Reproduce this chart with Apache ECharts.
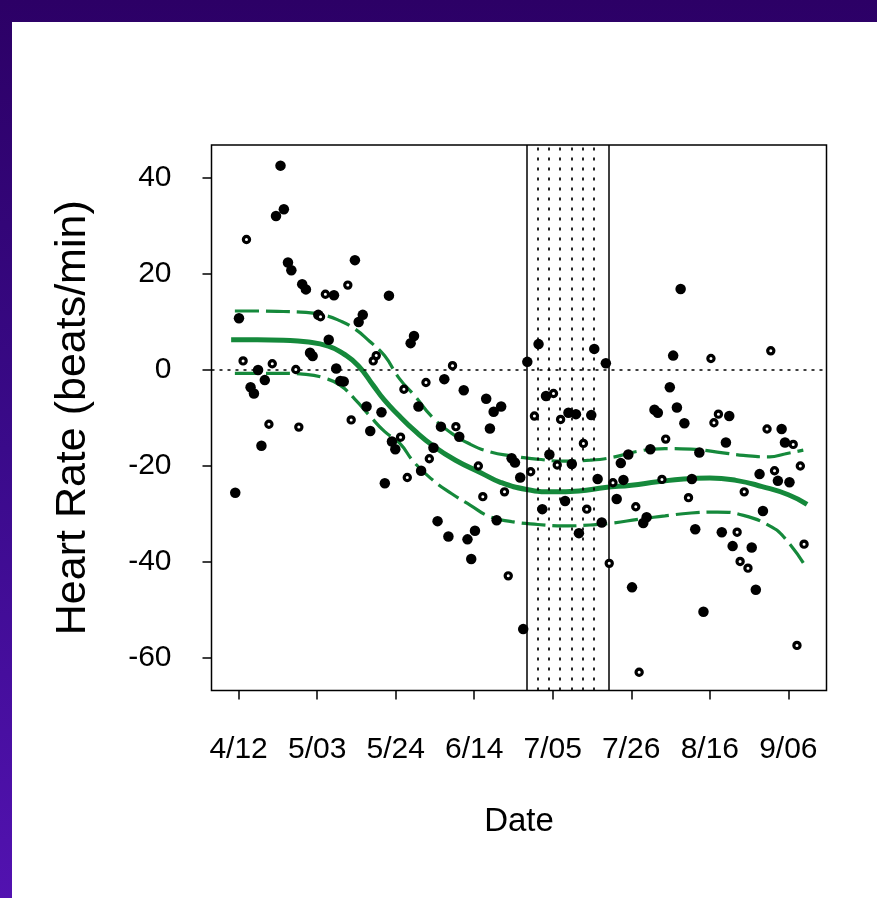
<!DOCTYPE html>
<html>
<head>
<meta charset="utf-8">
<script src="https://cdn.jsdelivr.net/npm/echarts@6/dist/echarts.min.js"></script>
<style>
  html, body { margin: 0; padding: 0; width: 877px; height: 898px; overflow: hidden; }
  body { background: linear-gradient(180deg, #2c0066 0%, #3a0a8a 50%, #5212b0 100%); position: relative; }
  #paper { position: absolute; left: 12px; top: 22px; right: 0; bottom: 0; background: #fff; }
  #b { position: absolute; left: 0; top: 0; width: 877px; height: 898px; }
</style>
</head>
<body>
<div id="paper"></div>
<div id="b"></div>
<script>
// days counted from 4/12
var tickDays = [0, 21, 42, 63, 84, 105, 126, 147];
var tickLabels = ['4/12', '5/03', '5/24', '6/14', '7/05', '7/26', '8/16', '9/06'];
var rateTicks = [-60, -40, -20, 0, 20, 40];

// filled dots
var filledDays = [11.2, 12.1, 10.0, 13.2, 14.1, 17.0, 18.0, 31.1, 25.5, 40.2,
  0.1, 21.3, 33.2, 32.1, 46.9, 46.0, 24.1, 19.1, 19.8, 5.2,
  7.0, 26.1, 3.2, 4.1, 27.2, 28.1, 34.2, 38.2, 6.1, -0.9,
  35.2, 41.0, 41.9, 39.1, 48.1, 80.2, 95.1, 77.2, 98.2, 55.0,
  60.2, 66.2, 70.2, 68.2, 67.2, 82.2, 88.2, 90.2, 94.3, 54.1,
  59.0, 52.1, 48.8, 73.0, 73.9, 75.3, 83.1, 89.1, 96.0, 102.2,
  102.9, 101.1, 87.3, 81.2, 69.0, 53.2, 56.1, 61.2, 63.2, 62.2,
  91.0, 97.1, 118.2, 116.2, 115.3, 111.2, 112.1, 117.2, 119.2, 131.2,
  145.2, 130.3, 146.1, 110.1, 104.2, 123.2, 121.2, 139.3, 144.2, 147.3,
  140.2, 109.1, 108.2, 122.1, 129.2, 132.1, 137.2, 76.1, 105.2, 138.3, 124.3];
var filledRate = [42.6, 33.5, 32.1, 22.4, 20.8, 17.9, 16.8, 22.9, 15.6, 15.5,
  10.8, 11.5, 11.5, 10.0, 7.1, 5.6, 6.3, 3.6, 2.9, 0.0,
  -2.1, 0.3, -3.6, -4.9, -2.3, -2.4, -7.6, -8.8, -15.8, -25.6,
  -12.7, -14.9, -16.5, -23.6, -7.6, 5.4, 4.4, 1.7, 1.4, -1.9,
  -4.2, -6.0, -7.6, -8.7, -12.2, -5.4, -8.9, -9.2, -9.4, -11.8,
  -13.9, -16.2, -21.0, -18.4, -19.3, -22.4, -17.6, -19.6, -22.7, -19.4,
  -22.9, -26.9, -27.3, -29.0, -31.3, -31.5, -34.7, -35.3, -33.5, -39.4,
  -34.0, -31.8, 16.9, 3.0, -3.6, -8.3, -8.9, -7.8, -11.1, -9.6,
  -12.3, -15.1, -15.1, -16.5, -17.6, -17.2, -22.7, -21.7, -23.1, -23.4,
  -29.4, -30.7, -31.9, -33.2, -33.8, -36.7, -37.0, -54.0, -45.3, -45.8, -50.4];

// open dots
var openDays = [2.1, 29.2, 23.2, 21.9, 1.2, 9.0, 15.3, 36.8, 36.0, 44.2,
  30.1, 8.1, 16.1, 43.3, 45.1, 57.2, 50.1, 84.2, 79.1, 86.1,
  58.1, 92.2, 51.0, 64.1, 78.1, 85.2, 100.1, 71.1, 65.3, 93.1,
  99.1, 126.3, 142.3, 128.3, 127.1, 141.3, 148.3, 114.2, 150.2, 143.3,
  113.2, 135.2, 120.3, 106.2, 133.3, 151.2, 72.1, 134.1, 136.2, 149.3, 107.1];
var openRate = [27.2, 17.7, 15.8, 11.1, 1.9, 1.3, 0.1, 3.0, 1.9, -4.0,
  -10.4, -11.3, -11.9, -14.0, -22.4, 0.9, -2.6, -4.9, -9.6, -10.3,
  -11.8, -15.3, -18.5, -20.0, -21.2, -19.8, -23.5, -25.4, -26.4, -29.0,
  -40.3, 2.4, 4.0, -9.2, -11.0, -12.3, -15.5, -14.4, -20.0, -21.0,
  -22.8, -25.4, -26.6, -28.5, -33.8, -36.3, -42.9, -39.9, -41.3, -57.4, -63.0];

// smoothed fit and its band
var fitDays = [-2, 5, 12, 18, 24, 28, 32, 36, 39, 43, 47, 52, 58, 65, 70, 77,
  84, 91, 98, 105, 112, 119, 126, 133, 140, 147, 152];
var fitRate = [6.3, 6.3, 6.2, 5.9, 5.0, 3.4, 0.9, -3.2, -6.3, -9.6, -12.6, -15.8, -18.8, -21.5, -23.4, -24.9,
  -25.4, -25.2, -24.5, -24.0, -23.3, -22.7, -22.5, -23.0, -24.3, -26.0, -28.0];
var bandDays = [-1, 5, 12, 18, 23, 27, 31, 35, 39, 43, 47, 52, 57, 62, 67, 73, 80,
  87, 94, 100, 107, 114, 121, 128, 135, 142, 146, 151];
var upperRate = [12.3, 12.3, 12.2, 12.0, 11.4, 10.3, 8.6, 6.0, 3.0, -1.8, -5.3, -10.0, -13.2, -15.5, -17.0, -17.9, -18.6,
  -19.0, -18.8, -18.2, -16.9, -16.4, -16.5, -17.1, -17.8, -18.1, -17.5, -16.7];
var lowerRate = [-0.7, -0.7, -0.7, -0.9, -1.7, -3.1, -6.0, -9.5, -12.8, -15.2, -19.3, -23.0, -25.8, -28.2, -30.5, -31.6, -32.2,
  -32.5, -32.3, -31.9, -31.1, -30.4, -29.8, -29.6, -30.3, -32.5, -35.0, -40.2];

// shaded period
var periodEdges = [77, 99];
var periodDots = [80, 83, 86, 89, 92, 95];

function pairs(xs, ys) {
  return xs.map(function (x, i) { return [x, ys[i]]; });
}

var green = '#15893b';
var font = '"Liberation Sans", Arial, sans-serif';

var myChart = echarts.init(document.getElementById('b'));
var marks = [];
periodEdges.forEach(function (d) {
  marks.push({ xAxis: d, lineStyle: { color: '#000', width: 1.5, type: 'solid' } });
});
periodDots.forEach(function (d) {
  marks.push({ xAxis: d, lineStyle: { color: '#000', width: 1.7, type: [3, 7] } });
});
marks.push({ yAxis: 0, lineStyle: { color: '#000', width: 1.7, type: [3, 5] } });

option = {
  backgroundColor: 'transparent',
  animation: false,
  textStyle: { fontFamily: font },
  grid: {
    left: 211.5, right: 50.5, top: 145, bottom: 207.5,
    show: true, borderColor: '#000', borderWidth: 1.5, backgroundColor: 'transparent'
  },
  xAxis: {
    type: 'value', min: -7.25, max: 157.2,
    name: 'Date', nameLocation: 'middle', nameGap: 115,
    nameTextStyle: { fontSize: 33, color: '#000', fontFamily: font },
    axisLine: { show: false, onZero: false },
    splitLine: { show: false },
    axisTick: { show: true, length: 9, customValues: tickDays, lineStyle: { color: '#000', width: 1.5 } },
    axisLabel: {
      customValues: tickDays, margin: 44, fontSize: 30, color: '#000', fontFamily: font,
      formatter: function (v) { var i = tickDays.indexOf(v); return i < 0 ? '' : tickLabels[i]; }
    }
  },
  yAxis: {
    type: 'value', min: -66.8, max: 46.9,
    name: 'Heart Rate (beats/min)', nameLocation: 'middle', nameGap: 117,
    nameTextStyle: { fontSize: 43, color: '#000', fontFamily: font },
    axisLine: { show: false, onZero: false },
    splitLine: { show: false },
    axisTick: { show: true, length: 9, customValues: rateTicks, lineStyle: { color: '#000', width: 1.5 } },
    axisLabel: { customValues: rateTicks, margin: 40, fontSize: 30, color: '#000', fontFamily: font }
  },
  series: [
    {
      name: 'period', type: 'scatter', data: [], z: 1,
      markLine: { silent: true, symbol: 'none', label: { show: false }, animation: false, data: marks }
    },
    {
      name: 'upper', type: 'line', smooth: true, showSymbol: false, z: 3,
      data: pairs(bandDays, upperRate),
      lineStyle: { color: green, width: 3.2, type: [24, 7] }
    },
    {
      name: 'lower', type: 'line', smooth: true, showSymbol: false, z: 3,
      data: pairs(bandDays, lowerRate),
      lineStyle: { color: green, width: 3.2, type: [24, 7] }
    },
    {
      name: 'fit', type: 'line', smooth: true, showSymbol: false, z: 3,
      data: pairs(fitDays, fitRate),
      lineStyle: { color: green, width: 5 }
    },
    {
      name: 'filled', type: 'scatter', symbol: 'circle', symbolSize: 10.5, z: 4,
      data: pairs(filledDays, filledRate),
      itemStyle: { color: '#000', opacity: 1 }
    },
    {
      name: 'open', type: 'scatter', symbol: 'circle', symbolSize: 6.2, z: 5,
      data: pairs(openDays, openRate),
      itemStyle: { color: '#fff', borderColor: '#000', borderWidth: 3.2, opacity: 1 }
    }
  ]
};
option && myChart.setOption(option);
</script>
</body>
</html>
